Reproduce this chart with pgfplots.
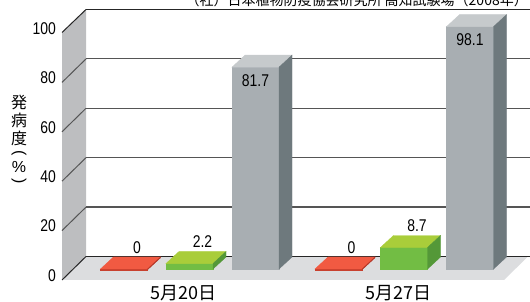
\documentclass[border=0pt]{standalone}
\usepackage{fontspec}
\usepackage{graphicx}
\usepackage{pgfplots}
\pgfplotsset{compat=1.18}
\usetikzlibrary{backgrounds}
\setmainfont{Liberation Sans}
\newfontfamily\jp{Noto Sans CJK JP}
\definecolor{wallgray}{HTML}{BDBEC0}
\definecolor{floorgray}{HTML}{DCDDDF}
\definecolor{gridgray}{HTML}{555555}
\definecolor{redT}{HTML}{F15A42}
\definecolor{redF}{HTML}{C8402E}
\definecolor{redS}{HTML}{B8392A}
\definecolor{greenT}{HTML}{A9CD3A}
\definecolor{greenF}{HTML}{72BD44}
\definecolor{greenS}{HTML}{549838}
\definecolor{grayF}{HTML}{A8AEB2}
\definecolor{grayT}{HTML}{C6CACC}
\definecolor{grayS}{HTML}{6E797D}
\newcommand\numfont{\fontsize{17}{17}\selectfont}
\newcommand\num[1]{\scalebox{0.82}[1]{#1}}
\pgfdeclareplotmark{nothing}{}
% #1 front, #2 top, #3 side, #4 x offset (pt), #5 label mode (0 above, 1 inside)
\newcommand\drawbox[5]{%
  \pgfmathsetmacro\h{max(\val*2.47,0.8)}%
  \pgfmathsetmacro\hb{12-\h}%
  \pgfmathsetmacro\xa{#4-23.5}%
  \pgfmathsetmacro\xb{#4+23.5}%
  \pgfmathsetmacro\xc{#4+36.5}%
  \pgfmathsetmacro\xd{#4-10.5}%
  \pgfmathsetmacro\xl{#4+13}%
  \pgfmathsetmacro\xm{#4}%
  \fill[#1] (\xa pt,-\h pt) rectangle (\xb pt,0pt);
  \fill[#2] (\xa pt,0pt) -- (\xb pt,0pt) -- (\xc pt,12pt) -- (\xd pt,12pt) -- cycle;
  \fill[#3] (\xb pt,0pt) -- (\xc pt,12pt) -- (\xc pt,\hb pt) -- (\xb pt,-\h pt) -- cycle;
  \ifnum#5=0
    \node[font=\numfont, inner sep=0pt, anchor=south] at (\xl pt,15.5pt) {\num{\pgfmathprintnumber[fixed,precision=1,assume math mode=true]{\val}}};
  \else
    \node[font=\numfont, inner sep=0pt, anchor=center] at (\xm pt,-13pt) {\num{\pgfmathprintnumber[fixed,precision=1,assume math mode=true]{\val}}};
  \fi
}
\begin{document}
\begin{tikzpicture}
\begin{axis}[
  hide axis, clip=false,
  x=214.5pt, y=2.47pt,
  xmin=-1, xmax=2, ymin=-10, ymax=110,
  visualization depends on={rawy \as \val},
  every axis plot/.append style={scatter, only marks, mark=nothing,
    scatter/@post marker code/.code={\endpgfscope}},
]
\coordinate (O) at (axis cs:0,0);
% red series
\addplot[scatter/@pre marker code/.code={\pgfscope\drawbox{redF}{redT}{redS}{-65.5}{0}}]
  coordinates {(0,0) (1,0)};
% green series
\addplot[scatter/@pre marker code/.code={\pgfscope\drawbox{greenF}{greenT}{greenS}{0}{0}}]
  coordinates {(0,2.2) (1,8.7)};
% gray series
\addplot[scatter/@pre marker code/.code={\pgfscope\drawbox{grayF}{grayT}{grayS}{66}{1}}]
  coordinates {(0,81.7) (1,98.1)};
\end{axis}
\begin{scope}[on background layer, shift={(O)}, x=1pt, y=-1pt, shift={(-189.5,-269)}]
  \fill[wallgray] (62,280) -- (62,32.5) -- (86,9.5) -- (86,256.5) -- cycle;
  \fill[floorgray] (86,256.5) -- (528,256.5) -- (504,280) -- (62,280) -- cycle;
  \foreach \k in {20,40,60,80} {
    \draw[gridgray, line width=1.2pt] (86,{256.5-2.47*\k}) -- (530,{256.5-2.47*\k});
    \draw[gridgray, line width=1pt] (62,{280-2.47*\k}) -- (86,{256.5-2.47*\k});
  }
  \draw[black!85, line width=1.2pt] (86,9.5) -- (530,9.5);
  \draw[black!85, line width=1pt] (62,32.5) -- (86,9.5);
  \draw[black!85, line width=1.2pt] (86,256.5) -- (530,256.5);
  \draw[black!85, line width=1pt] (62,280) -- (86,256.5);
\end{scope}
\begin{scope}[shift={(O)}, x=1pt, y=-1pt, shift={(-189.5,-269)}]
  \foreach \k in {0,20,40,60,80,100} {
    \node[font=\numfont, inner sep=0pt, anchor=east] at (56,{280-2.47*\k-4.5}) {\num{\k}};
  }
  \node[font=\jp\fontsize{18}{18}\selectfont, inner sep=0pt] at (183.5,293) {5月20日};
  \node[font=\jp\fontsize{18}{18}\selectfont, inner sep=0pt] at (398.5,293) {5月27日};
  \node[font=\jp\fontsize{14}{14}\selectfont, inner sep=0pt, anchor=base east] at (528,5.5) {（社）日本植物防疫協会研究所 高知試験場（2008年）};
  \foreach \c/\yy in {発/102,病/120,度/138} {
    \node[font=\jp\fontsize{16}{16}\selectfont, inner sep=0pt] at (19,\yy) {\c};
  }
  \node[font=\fontsize{16}{16}\selectfont, inner sep=0pt] at (19,153) {\rotatebox{-90}{(}};
  \node[font=\fontsize{16}{16}\selectfont, inner sep=0pt] at (19,167) {\%};
  \node[font=\fontsize{16}{16}\selectfont, inner sep=0pt] at (19,181) {\rotatebox{-90}{)}};
\end{scope}
\pgfresetboundingbox
\path[use as bounding box, shift={(O)}, x=1pt, y=-1pt, shift={(-189.5,-269)}] (0,0) rectangle (530,302);
\end{tikzpicture}
\end{document}
